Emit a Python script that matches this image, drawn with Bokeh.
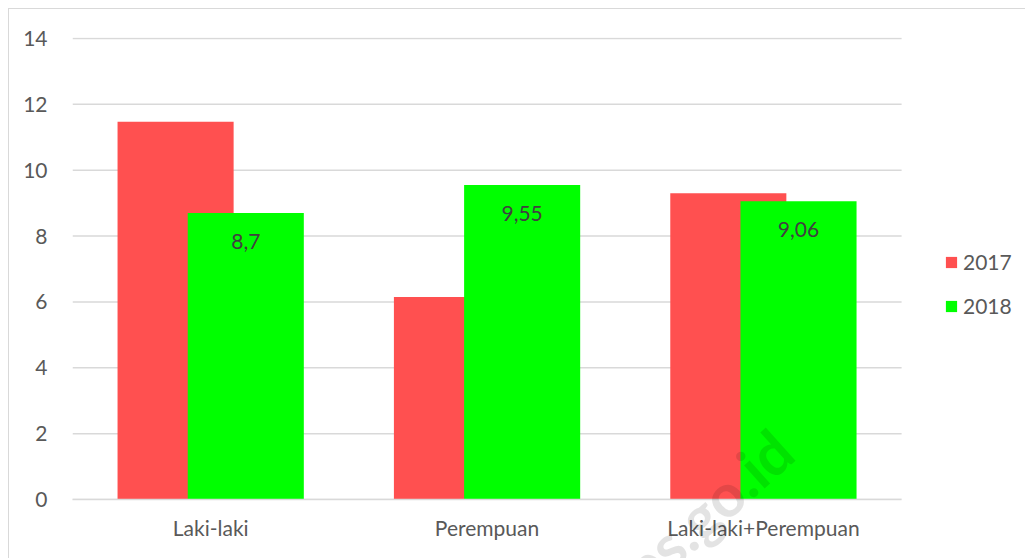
from bokeh.plotting import figure
from bokeh.layouts import column
from bokeh.models import (ColumnDataSource, Div, LabelSet, Legend, LegendItem,
                          FixedTicker)
from bokeh.core.properties import value
from bokeh.embed import file_html
from bokeh.resources import INLINE

categories = ["Laki-laki", "Perempuan", "Laki-laki+Perempuan"]
values_2017 = [11.47, 6.15, 9.3]
values_2018 = [8.7, 9.55, 9.06]
labels_2018 = ["8,7", "9,55", "9,06"]
years = ["2017", "2018"]
y_ticks = [0, 2, 4, 6, 8, 10, 12, 14]

RED = "#ff5050"
GREEN = "#00ff00"
TEXT = "#595959"
GRID = "#d9d9d9"
FONT = "Lato"
FS = "21px"

n = len(categories)
centers = [i + 0.5 for i in range(n)]
OFFSET = 0.127
BAR_W = 0.42

src = ColumnDataSource(dict(
    x17=[c - OFFSET for c in centers], x18=[c + OFFSET for c in centers],
    v17=values_2017, v18=values_2018, lab=labels_2018,
    lab_y=[v - 0.85 for v in values_2018]))

# plot area reaches past the categories so the legend sits on the right
p = figure(x_range=(0, n + 0.423), y_range=(0, 14.03),
           width=1017, height=550, output_backend="svg", toolbar_location=None,
           min_border_left=63, min_border_right=8, min_border_top=28,
           min_border_bottom=60,
           styles={"margin-left": "8px", "margin-top": "8px",
                   "border-left": "1.5px solid #d9d9d9",
                   "border-top": "1.5px solid #d9d9d9"})

# horizontal gridlines, limited to the category span
p.segment(x0=[0] * len(y_ticks), x1=[n] * len(y_ticks), y0=y_ticks, y1=y_ticks,
          line_color=GRID, line_width=1.5)

r17 = p.vbar(x="x17", top="v17", width=BAR_W, source=src, color=RED, line_color=None)
r18 = p.vbar(x="x18", top="v18", width=BAR_W, source=src, color=GREEN, line_color=None)

p.add_layout(LabelSet(x="x18", y="lab_y", text="lab", source=src,
                      text_align="center", text_baseline="middle",
                      text_font=value(FONT), text_font_size=FS, text_color="#404040"))

p.outline_line_color = None
p.background_fill_color = "white"
p.border_fill_color = "white"
p.xgrid.grid_line_color = None
p.ygrid.grid_line_color = None

p.yaxis.ticker = FixedTicker(ticks=y_ticks)
p.yaxis.axis_line_color = None
p.yaxis.major_tick_line_color = None
p.yaxis.minor_tick_line_color = None
p.yaxis.major_label_text_font = FONT
p.yaxis.major_label_text_font_size = FS
p.yaxis.major_label_text_color = TEXT
p.yaxis.major_label_standoff = 19

p.xaxis.ticker = FixedTicker(ticks=centers)
p.xaxis.major_label_overrides = {c: name for c, name in zip(centers, categories)}
p.xaxis.bounds = (0, n)
p.xaxis.axis_line_color = GRID
p.xaxis.axis_line_width = 1.5
p.xaxis.major_tick_line_color = None
p.xaxis.minor_tick_line_color = None
p.xaxis.major_label_text_font = FONT
p.xaxis.major_label_text_font_size = FS
p.xaxis.major_label_text_color = TEXT
p.xaxis.major_label_standoff = 9

legend = Legend(items=[LegendItem(label=years[0], renderers=[r17]),
                       LegendItem(label=years[1], renderers=[r18])],
                location=(872, 181), label_text_font=FONT, label_text_font_size=FS,
                label_text_color=TEXT, glyph_width=14, glyph_height=14,
                label_height=20, spacing=19, border_line_color=None,
                background_fill_alpha=0, label_standoff=5, padding=0, margin=0)
p.add_layout(legend)

# faint site watermark laid over the chart
mark = Div(text="bps.go.id", width=320, height=68,
           styles={"position": "absolute", "left": "458px", "top": "402px",
                   "text-align": "right", "font-family": "Lato",
                   "font-weight": "bold", "font-size": "60px", "line-height": "68px",
                   "color": "rgba(0,0,0,0.11)", "transform": "rotate(-42deg)",
                   "transform-origin": "right center", "pointer-events": "none",
                   "white-space": "nowrap"})

layout = column(p, mark, spacing=0)
open("out.html", "w").write(file_html(layout, INLINE))
